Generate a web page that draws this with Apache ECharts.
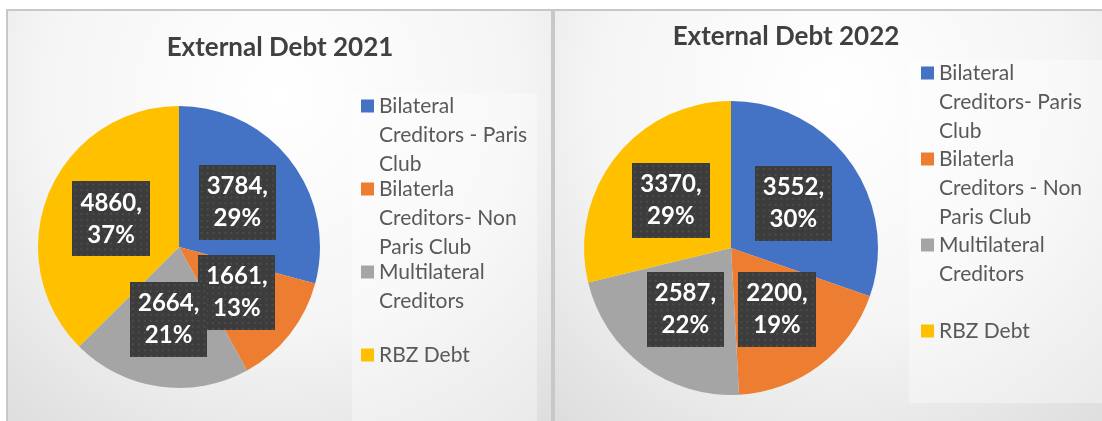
<!DOCTYPE html>
<html>
<head>
<meta charset="utf-8">
<title>External Debt</title>
<script src="https://cdn.jsdelivr.net/npm/echarts@6/dist/echarts.min.js"></script>
<style>
    html, body { margin: 0; padding: 0; background: #fff; }
    #chart { width: 1102px; height: 421px; }
</style>
</head>
<body>
<div id="chart"></div>
<script>
    // chart data
    var titles = ['External Debt 2021', 'External Debt 2022'];
    var categories2021 = ['Bilateral Creditors - Paris Club', 'Bilaterla Creditors- Non Paris Club', 'Multilateral Creditors', 'RBZ Debt'];
    var categories2022 = ['Bilateral Creditors- Paris Club', 'Bilaterla Creditors - Non Paris Club', 'Multilateral Creditors', 'RBZ Debt'];
    var values2021 = [3784, 1661, 2664, 4860];
    var values2022 = [3552, 2200, 2587, 3370];
    // legend entries as they wrap in the picture (3 lines each)
    var legendText2021 = ['Bilateral\nCreditors - Paris\nClub', 'Bilaterla\nCreditors- Non\nParis Club', 'Multilateral\nCreditors\n ', 'RBZ Debt\n \n '];
    var legendText2022 = ['Bilateral\nCreditors- Paris\nClub', 'Bilaterla\nCreditors - Non\nParis Club', 'Multilateral\nCreditors\n ', 'RBZ Debt\n \n '];
    var colors = ['#4472C4', '#ED7D31', '#A5A5A5', '#FFC000'];

    var font = 'Lato, "Open Sans", sans-serif';
    var lineH = 29;

    // dark dotted fill used behind the data labels
    function makeDots(w, h) {
        var c = document.createElement('canvas');
        c.width = w;
        c.height = h;
        var ctx = c.getContext('2d');
        ctx.fillStyle = '#3c3c3c';
        ctx.fillRect(0, 0, w, h);
        ctx.fillStyle = '#4c4c4c';
        for (var y = 2; y < h; y += 6) {
            for (var x = 2; x < w; x += 6) {
                ctx.fillRect(x, y, 2, 2);
            }
        }
        return c;
    }
    var dots = makeDots(78, 76);

    function toData(names, values) {
        return names.map(function (n, i) {
            return { name: n, value: values[i], itemStyle: { color: colors[i] } };
        });
    }

    function panelFill() {
        return new echarts.graphic.RadialGradient(0.5, 0.2, 1.1, [
            { offset: 0, color: '#ffffff' },
            { offset: 0.5, color: '#f5f5f5' },
            { offset: 1, color: '#d8d8d8' }
        ]);
    }

    // legend square that sits at the top of a 3-line entry
    // (the tiny flat triangles only stretch the icon box to the entry height)
    var h3 = 3 * lineH;
    var legendIcon = 'path://M0,0L13,0L13,0.01Z M0,' + (lineH / 2 - 6.5) + 'L13,' + (lineH / 2 - 6.5) +
        'L13,' + (lineH / 2 + 6.5) + 'L0,' + (lineH / 2 + 6.5) + 'Z M0,' + h3 + 'L13,' + h3 + 'L13,' + (h3 - 0.01) + 'Z';

    var label = {
        show: true,
        position: 'inside',
        formatter: function (p) {
            return p.value + ',\n' + Math.round(p.percent) + '%';
        },
        color: '#ffffff',
        fontFamily: font,
        fontWeight: 'bold',
        fontSize: 24,
        lineHeight: 32,
        align: 'center',
        backgroundColor: { image: dots },
        padding: [6, 8, 5, 8],
        shadowColor: 'rgba(0,0,0,0.5)',
        shadowBlur: 6,
        shadowOffsetX: 3,
        shadowOffsetY: 3
    };

    function legendOpt(names, texts, left, firstLine, pitch) {
        return {
            data: names,
            orient: 'vertical',
            left: left,
            top: firstLine - lineH / 2,
            height: 420,
            padding: 0,
            icon: legendIcon,
            itemWidth: 13,
            itemHeight: h3,
            itemGap: pitch - h3,
            formatter: function (name) {
                return texts[names.indexOf(name)];
            },
            textStyle: {
                fontFamily: font,
                fontSize: 21,
                lineHeight: lineH,
                color: '#595959'
            }
        };
    }

    function pieOpt(center, radius, names, values) {
        return {
            type: 'pie',
            center: center,
            radius: radius,
            startAngle: 90,
            clockwise: true,
            avoidLabelOverlap: false,
            labelLayout: { hideOverlap: false },
            data: toData(names, values),
            label: label,
            labelLine: { show: false },
            emphasis: { disabled: true },
            itemStyle: { borderWidth: 0 }
        };
    }

    var myChart = echarts.init(document.getElementById('chart'));
    myChart.setOption({
        animation: false,
        graphic: [
            { type: 'rect', z: -10, silent: true, shape: { x: 7, y: 10, width: 545, height: 425 }, style: { fill: panelFill(), stroke: '#c8c8c8', lineWidth: 2 } },
            { type: 'rect', z: -10, silent: true, shape: { x: 554, y: 10, width: 560, height: 425 }, style: { fill: panelFill(), stroke: '#c8c8c8', lineWidth: 2 } },
            { type: 'rect', z: -9, silent: true, shape: { x: 352, y: 93, width: 185, height: 340 }, style: { fill: 'rgba(255,255,255,0.35)' } },
            { type: 'rect', z: -9, silent: true, shape: { x: 909, y: 60, width: 193, height: 343 }, style: { fill: 'rgba(255,255,255,0.35)' } }
        ],
        title: [{
            text: titles[0], left: 280, top: 48, padding: 0,
            textAlign: 'center', textVerticalAlign: 'middle',
            textStyle: { fontFamily: font, fontWeight: 'bold', fontSize: 26, color: '#404040' }
        }, {
            text: titles[1], left: 786, top: 37, padding: 0,
            textAlign: 'center', textVerticalAlign: 'middle',
            textStyle: { fontFamily: font, fontWeight: 'bold', fontSize: 26, color: '#404040' }
        }],
        legend: [
            legendOpt(categories2021, legendText2021, 361, 106, 83),
            legendOpt(categories2022, legendText2022, 921, 73, 86)
        ],
        series: [
            pieOpt([179, 247], 141, categories2021, values2021),
            pieOpt([731, 248], 147, categories2022, values2022)
        ]
    });
</script>
</body>
</html>
